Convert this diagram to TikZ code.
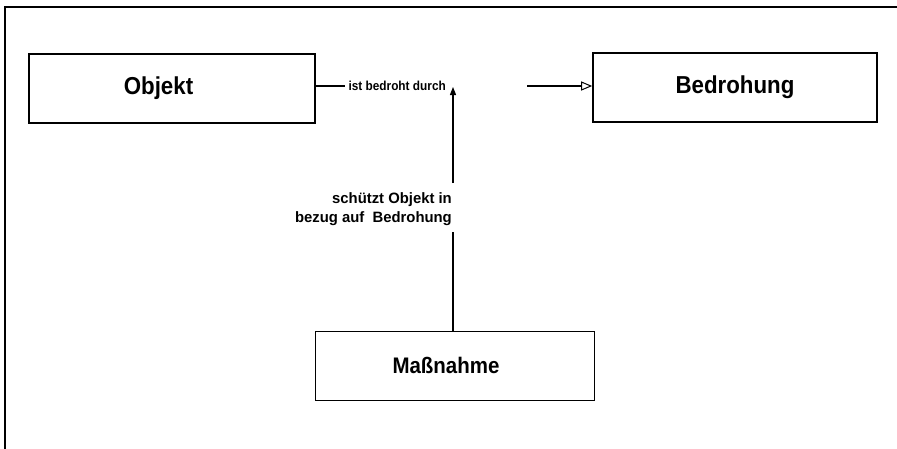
\documentclass[tikz,border=0pt]{standalone}
\usepackage{fontspec}
\setmainfont{Liberation Sans}[FakeStretch=0.91]
\newfontfamily\widefont{Liberation Sans}[FakeStretch=0.99]
\usetikzlibrary{arrows.meta}
\tikzset{
  entity/.style={draw=black, line width=1.6pt, minimum width=286pt, minimum height=69pt, inner sep=0pt, font=\fontsize{24.5}{28}\selectfont\bfseries},
  weakentity/.style={entity, line width=0.9pt, minimum width=279pt, font=\fontsize{22.5}{26}\selectfont\bfseries},
  lbl/.style={font=\fontsize{13}{15}\selectfont\bfseries, inner sep=0pt},
  widelbl/.style={font=\widefont\fontsize{15}{19}\selectfont\bfseries, inner sep=0pt},
  conn/.style={line width=1.1pt},
  frame/.style={line width=1.4pt}
}
\begin{document}
\begin{tikzpicture}[x=1pt, y=-1pt]
\useasboundingbox (0,0) rectangle (897,448);
% frame (only top and left edge visible)
\draw[frame] (5,449) -- (5,7) -- (898,7);
% boxes
\node[entity] (obj) at (172,88.5) {Objekt\hspace*{27pt}};
\node[entity, minimum width=284pt] (bed) at (735,87.5) {Bedrohung};
\node[weakentity] (mas) at (454.5,365.5) {Maßnahme\hspace*{17pt}};
% relationship Objekt -> Bedrohung
\coordinate (r1) at (345,86);
\coordinate (r2) at (527,86);
\draw[conn] (obj.east |- r1) -- (r1) node[lbl, anchor=west, xshift=3pt, yshift=0.5pt] (rel) {ist bedroht durch};
\draw[conn, -{Triangle[open, width=9pt, length=11pt, line width=1pt]}] (r2) -- (bed.west |- r2);
% Massnahme -> relationship
\coordinate (tip) at (453,87);
\coordinate (gtop) at (453,183);
\coordinate (gbot) at (453,232);
\draw[conn] (mas.north -| tip) -- (gbot);
\draw[conn, -{Triangle[width=6pt, length=8pt]}] (gtop) -- (tip);
\node[widelbl, align=right, anchor=east] (prot) at (452,209) {schützt Objekt in\\bezug auf\ \ Bedrohung};
\end{tikzpicture}
\end{document}
